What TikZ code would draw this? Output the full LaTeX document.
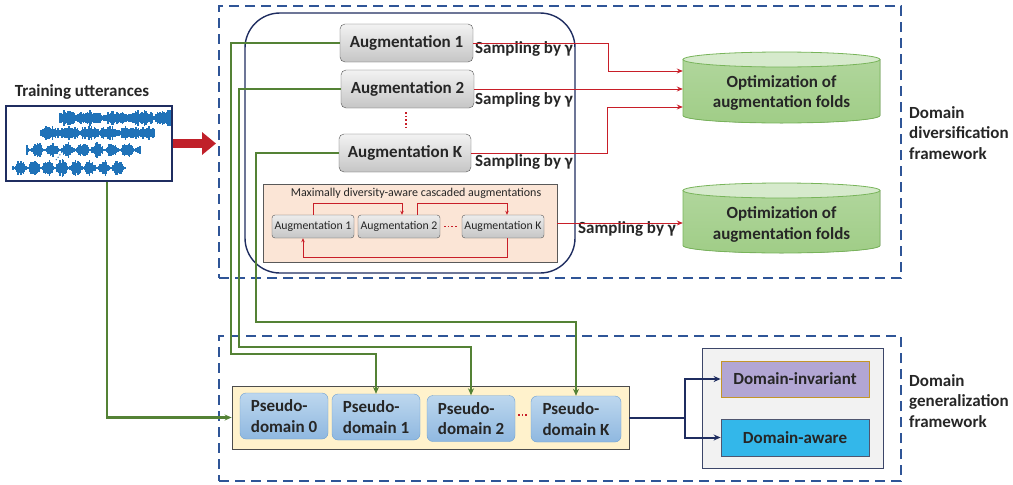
\documentclass[tikz,border=0pt]{standalone}
\usepackage{fontspec}
\setmainfont{Carlito}
\usetikzlibrary{arrows.meta,calc}
\definecolor{dashblue}{RGB}{47,85,151}
\definecolor{navy}{RGB}{31,45,96}
\definecolor{redl}{RGB}{200,30,40}
\definecolor{bigred}{RGB}{192,32,42}
\definecolor{grn}{RGB}{84,130,53}
\definecolor{txt}{RGB}{38,38,38}
\definecolor{wave}{RGB}{31,114,184}
\definecolor{peach}{RGB}{251,229,214}
\definecolor{yel}{RGB}{255,242,204}
\definecolor{pdtop}{RGB}{189,215,238}
\definecolor{pdbot}{RGB}{143,184,224}
\definecolor{pdborder}{RGB}{110,160,210}
\definecolor{cyltop}{RGB}{214,234,204}
\definecolor{cylbot}{RGB}{160,205,135}
\definecolor{cylborder}{RGB}{120,180,90}
\definecolor{purp}{RGB}{178,166,212}
\definecolor{gold}{RGB}{196,150,40}
\definecolor{cyanb}{RGB}{51,183,234}
\definecolor{lgray}{RGB}{242,242,242}
\begin{document}
\begin{tikzpicture}[x=1pt,y=-1pt,
  bf/.style={font=\fontsize{17}{20.5}\selectfont\bfseries, text=txt},
  dashbox/.style={draw=dashblue, line width=2.2pt, dash pattern=on 10pt off 6pt, inner sep=0pt},
  augbig/.style={draw=gray!65!black, rounded corners=5pt, top color=gray!10, bottom color=gray!45, minimum width=133pt, minimum height=38pt, inner sep=0pt, bf},
  augsmall/.style={draw=gray!65!black, rounded corners=3pt, top color=gray!15, bottom color=gray!45, minimum width=82pt, minimum height=23pt, inner sep=0pt, font=\fontsize{11.8}{13}\selectfont, text=txt},
  pd/.style={draw=pdborder, rounded corners=6pt, top color=pdtop, bottom color=pdbot, minimum width=88pt, minimum height=46pt, inner sep=0pt, align=left, bf},
  samp/.style={anchor=west, inner sep=0pt, bf},
  redline/.style={draw=redl, line width=1pt},
  redarr/.style={redline, -{Stealth[length=6pt,width=5pt]}},
  redsm/.style={redline, line width=0.8pt, -{Stealth[length=4pt,width=3.5pt]}},
  grline/.style={draw=grn, line width=2.3pt, -{Stealth[length=7pt,width=6pt]}},
  navyarr/.style={draw=navy, line width=2pt, -{Stealth[length=7pt,width=6pt]}},
  reddots/.style={draw=redl, line width=1.6pt, dotted}
]
\useasboundingbox (0,0) rectangle (1013,485);

% dashed frameworks
\node[dashbox, minimum width=682pt, minimum height=272pt] (ddiv) at (560,142) {};
\node[dashbox, minimum width=682pt, minimum height=145pt] (dgen) at (560,408.5) {};
\node[anchor=west, align=left, bf, inner sep=0pt] (ldiv) at (909,133) {Domain\\diversification\\framework};
\node[anchor=west, align=left, bf, inner sep=0pt] (lgen) at (909,401) {Domain\\generalization\\framework};

% training utterances
\node[bf, inner sep=0pt] (tlab) at (82,92) {Training utterances};
\node[draw=navy, line width=1.2pt, minimum width=166pt, minimum height=75pt, inner sep=0pt] (train) at (89,143.5) {};
\pgfmathsetseed{42}
\foreach \yc/\xs/\n/\amp/\fr/\pw in {118/60/85/8/7/0.25, 133/41/87/7.5/9/0.25, 150/27/87/8/12/1.0, 168/13/86/9/13/1.0}{
  \foreach \i in {0,...,\n}{
    \pgfmathsetmacro\xx{\xs+\i*1.3}
    \pgfmathsetmacro\hh{max(0.8,\amp*pow(max(0.02,abs(sin(\xx*\fr))),\pw)*(0.5+0.5*rnd))}
    \fill[wave] (\xx-0.75,\yc-\hh) rectangle (\xx+0.75,\yc+\hh);
  }
}
\draw[wave, line width=1pt, dotted] (62,152) -- (56,160);
\draw[bigred, line width=9pt, -{Triangle[length=14pt,width=22pt]}] (train.east) -- (216,143.5);

% augmentation block
\node[draw=navy, line width=1.4pt, rounded corners=35pt, minimum width=330pt, minimum height=260pt, inner sep=0pt] (divbox) at (410,143) {};
\node[augbig] (aug1) at (406.5,43) {Augmentation 1};
\node[augbig] (aug2) at (407.5,89) {Augmentation 2};
\node[augbig, minimum width=132pt] (augK) at (405,153) {Augmentation K};
\draw[reddots, shorten >=4pt, shorten <=4pt] (aug2.south -| 406,0) -- (augK.north -| 406,0);
\node[samp] (s1) at (475,49) {Sampling by γ};
\node[samp] (s2) at (475,100) {Sampling by γ};
\node[samp] (s3) at (475,162) {Sampling by γ};

% cascaded
\node[draw=gray!70!black, fill=peach, minimum width=294pt, minimum height=78pt, inner sep=0pt] (casc) at (410,223) {};
\node[font=\fontsize{12}{14}\selectfont, text=txt, inner sep=0pt] (ctitle) at (416,193) {Maximally diversity-aware cascaded augmentations};
\node[augsmall] (sa1) at (313,226.5) {Augmentation 1};
\node[augsmall] (sa2) at (399,226.5) {Augmentation 2};
\node[augsmall] (saK) at (503,226.5) {Augmentation K};
\draw[reddots, line width=1.2pt, shorten >=4pt, shorten <=4pt] (sa2.east) -- (saK.west);
\draw[redsm] (sa1.north) -- (313,203) -- (402,203) -- (sa2.north -| 402,0);
\draw[redsm] (sa2.north -| 417,0) -- (417,203) -- (507,203) -- (saK.north -| 507,0);
\draw[redsm] (saK.south -| 507,0) -- (507,257) -- (303,257) -- (sa1.south -| 303,0);

% cylinders
\foreach \nm/\top/\bot/\ty in {cyl1/52/123/93, cyl2/183/253/224.5}{
  \fill[top color=cylbot!70!cyltop, bottom color=cylbot, draw=cylborder, line width=0.8pt]
    (683,\top+7.5) -- (683,\bot-7.5) arc[start angle=180, end angle=360, x radius=98.5pt, y radius=7.5pt] -- (880,\top+7.5) -- cycle;
  \draw[cylborder, line width=0.8pt, fill=cyltop] (781.5,\top+7.5) ellipse[x radius=98.5pt, y radius=7.5pt];
  \node[minimum width=197pt, minimum height=\bot-\top, inner sep=0pt] (\nm) at (781.5,{(\top+\bot)/2}) {};
  \node[bf, align=center, inner sep=0pt] at (781.5,\ty) {Optimization of\\augmentation folds};
}
\node[samp] (s4) at (578,229) {Sampling by γ};

% red connectors
\draw[redarr] (aug1.east) -- (608,43) |- (cyl1.west |- 0,71);
\draw[redarr] (aug2.east) -- (cyl1.west |- aug2.east);
\draw[redarr] (augK.east) -- (607,153) |- (cyl1.west |- 0,107);
\draw[redarr] (casc.east) -- (cyl2.west |- casc.east);

% generalization
\node[draw=gray!60!black, line width=0.8pt, fill=yel, minimum width=397pt, minimum height=63pt, inner sep=0pt] (yellow) at (430.5,417.5) {};
\node[pd] (pd0) at (284,416) {Pseudo-\\domain 0};
\node[pd] (pd1) at (376,417) {Pseudo-\\domain 1};
\node[pd] (pd2) at (471,418.5) {Pseudo-\\domain 2};
\node[pd, minimum width=90pt] (pdK) at (576,419) {Pseudo-\\domain K};
\draw[reddots, shorten >=3pt, shorten <=3pt] (pd2.east |- 0,415) -- (pdK.west |- 0,415);

\node[draw=navy!70!gray, line width=0.8pt, fill=lgray, minimum width=181pt, minimum height=120pt, inner sep=0pt] (outbox) at (792.5,408) {};
\node[draw=gold, line width=0.8pt, fill=purp, minimum width=148pt, minimum height=36pt, inner sep=0pt, bf] (dinv) at (795,379) {Domain-invariant};
\node[draw=navy!50!gray, line width=0.8pt, fill=cyanb, minimum width=148pt, minimum height=37pt, inner sep=0pt, bf] (daware) at (795,437.5) {Domain-aware};
\coordinate (split) at (685,417.5);
\draw[navy, line width=2pt] (yellow.east) -- (split);
\draw[navyarr] (split) |- (dinv.west);
\draw[navyarr] (split) |- (daware.west);

% green connectors
\draw[grline] (aug1.west) -| (231,354) -| (pd1.north);
\draw[grline] (aug2.west) -| (239,347) -| (pd2.north);
\draw[grline] (augK.west) -| (256,322) -| (pdK.north);
\draw[grline] (train.south -| 107,0) |- (yellow.west);
\end{tikzpicture}
\end{document}
